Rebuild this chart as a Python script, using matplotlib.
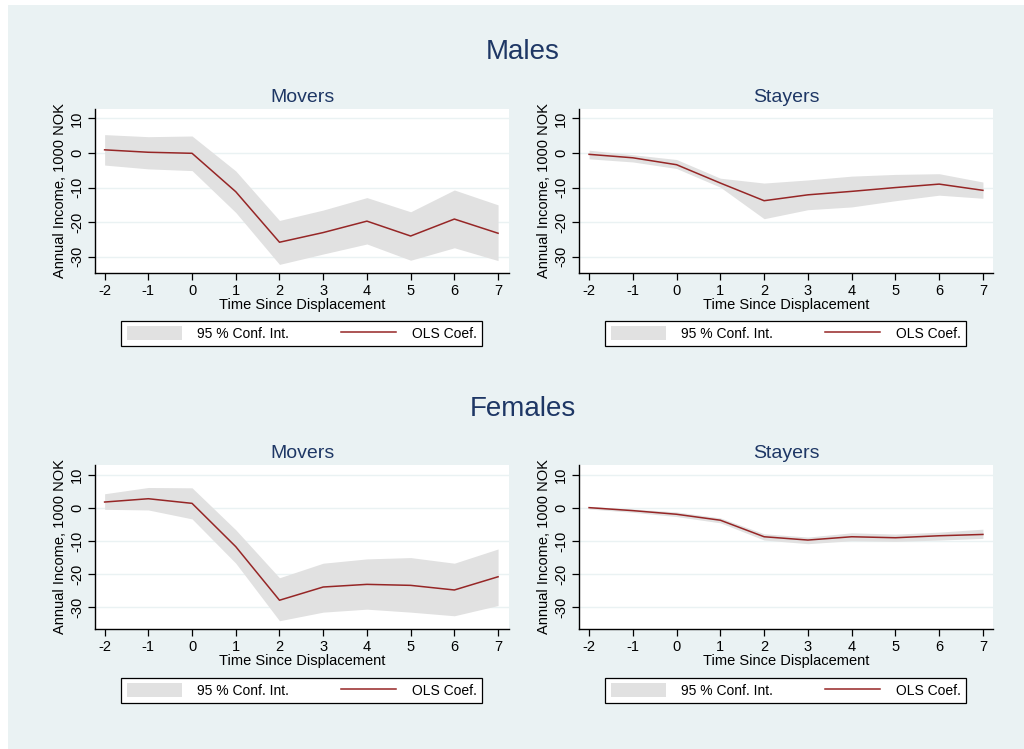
import matplotlib
matplotlib.use("Agg")
import matplotlib.pyplot as plt
from matplotlib.patches import Patch, Rectangle
from matplotlib.lines import Line2D

plt.rcParams["font.family"] = ["Liberation Sans", "DejaVu Sans"]
plt.rcParams["axes.unicode_minus"] = False

years = [-2, -1, 0, 1, 2, 3, 4, 5, 6, 7]

males_movers_coef = [0.9, 0.2, -0.1, -11.2, -25.8, -23.0, -19.7, -24.0, -19.1, -23.2]
males_movers_hi = [5.3, 4.7, 4.9, -5.2, -19.5, -16.5, -12.9, -17.0, -10.7, -15.0]
males_movers_lo = [-3.5, -4.6, -5.1, -17.2, -32.2, -29.2, -26.3, -31.0, -27.4, -31.1]

males_stayers_coef = [-0.4, -1.4, -3.4, -8.7, -13.8, -12.1, -11.1, -10.0, -9.0, -10.8]
males_stayers_hi = [0.8, -0.5, -1.9, -7.3, -8.7, -7.8, -6.7, -6.2, -6.0, -8.4]
males_stayers_lo = [-1.7, -2.6, -4.5, -9.9, -19.0, -16.4, -15.6, -13.8, -12.2, -13.1]

females_movers_coef = [1.8, 2.8, 1.4, -11.7, -27.9, -23.9, -23.1, -23.4, -24.8, -20.8]
females_movers_hi = [4.3, 6.2, 6.1, -6.6, -21.1, -16.7, -15.4, -15.0, -16.7, -12.4]
females_movers_lo = [-0.4, -0.6, -3.3, -16.7, -34.1, -31.5, -30.6, -31.5, -32.6, -29.5]

females_stayers_coef = [0.1, -0.8, -1.9, -3.7, -8.7, -9.7, -8.7, -9.0, -8.4, -8.0]
females_stayers_hi = [0.5, -0.3, -1.2, -3.0, -7.8, -8.8, -7.5, -7.9, -7.3, -6.4]
females_stayers_lo = [-0.3, -1.3, -2.6, -4.5, -9.7, -10.8, -9.9, -10.1, -9.7, -9.2]

y_ticks = [10, 0, -10, -20, -30]

BG = "#eaf2f3"
CI = "#e1e1e1"
LINE = "#962626"
NAVY = "#1e3765"

W, H = 1024, 749
fig = plt.figure(figsize=(W / 100, H / 100), dpi=100)
fig.patch.set_facecolor("white")
fig.add_artist(Rectangle((8 / W, 0), 1, 1 - 5 / H, transform=fig.transFigure,
                         facecolor=BG, edgecolor="none", zorder=-10))


def px_rect(x0, y0, x1, y1):
    return [x0 / W, 1 - y1 / H, (x1 - x0) / W, (y1 - y0) / H]


def panel(rect, title, coef, lo, hi, xlim, ylim, legend_rect):
    ax = fig.add_axes(px_rect(*rect))
    ax.set_facecolor("white")
    ax.fill_between(years, lo, hi, color=CI, linewidth=0)
    ax.plot(years, coef, color=LINE, linewidth=1.1)
    ax.set_xlim(*xlim)
    ax.set_ylim(*ylim)
    ax.set_xticks(years)
    ax.set_yticks(y_ticks)
    for y in y_ticks:
        ax.axhline(y, color=BG, linewidth=1.0, zorder=0.5)
    for side in ("top", "right"):
        ax.spines[side].set_visible(False)
    for side in ("left", "bottom"):
        ax.spines[side].set_linewidth(1.0)
    ax.tick_params(direction="out", length=5, width=0.9, labelsize=10.5, pad=3)
    for lab in ax.get_yticklabels():
        lab.set_rotation(90)
        lab.set_va("center")
    ax.set_xlabel("Time Since Displacement", fontsize=10.5, labelpad=0)
    ax.set_ylabel("Annual Income, 1000 NOK", fontsize=10.5, labelpad=2)
    ax.set_title(title, fontsize=14, color=NAVY, pad=5)

    handles = [Patch(facecolor=CI, edgecolor="none"),
               Line2D([], [], color=LINE, linewidth=1.1)]
    lx0, ly0, lx1, ly1 = legend_rect
    leg = fig.legend(handles, ["95 % Conf. Int.", "OLS Coef."], ncol=2,
                     loc="center", mode="expand",
                     bbox_to_anchor=(lx0 / W, 1 - ly1 / H, (lx1 - lx0) / W, (ly1 - ly0) / H),
                     bbox_transform=fig.transFigure, fontsize=10,
                     handlelength=4.0, handleheight=1.1, handletextpad=1.1,
                     borderaxespad=0, borderpad=0.4, fancybox=False,
                     framealpha=1, edgecolor="black")
    leg.get_frame().set_linewidth(0.9)
    return ax


panel((95, 109, 509, 272.7), "Movers", males_movers_coef, males_movers_lo, males_movers_hi,
      (-2.22, 7.25), (-34.6, 12.7), (121, 320, 482, 347))
panel((579, 109, 993, 272.7), "Stayers", males_stayers_coef, males_stayers_lo, males_stayers_hi,
      (-2.23, 7.23), (-34.6, 12.7), (605, 320, 966, 347))
panel((95, 465, 509, 629), "Movers", females_movers_coef, females_movers_lo, females_movers_hi,
      (-2.22, 7.25), (-36.6, 13.0), (121, 677, 482, 704))
panel((579, 465, 993, 629), "Stayers", females_stayers_coef, females_stayers_lo, females_stayers_hi,
      (-2.23, 7.23), (-36.6, 13.0), (605, 677, 966, 704))

fig.text(523 / W, 1 - 52 / H, "Males", fontsize=20, color=NAVY, ha="center", va="center")
fig.text(523 / W, 1 - 409 / H, "Females", fontsize=20, color=NAVY, ha="center", va="center")

fig.savefig("out.png", dpi=100, facecolor=fig.get_facecolor())
